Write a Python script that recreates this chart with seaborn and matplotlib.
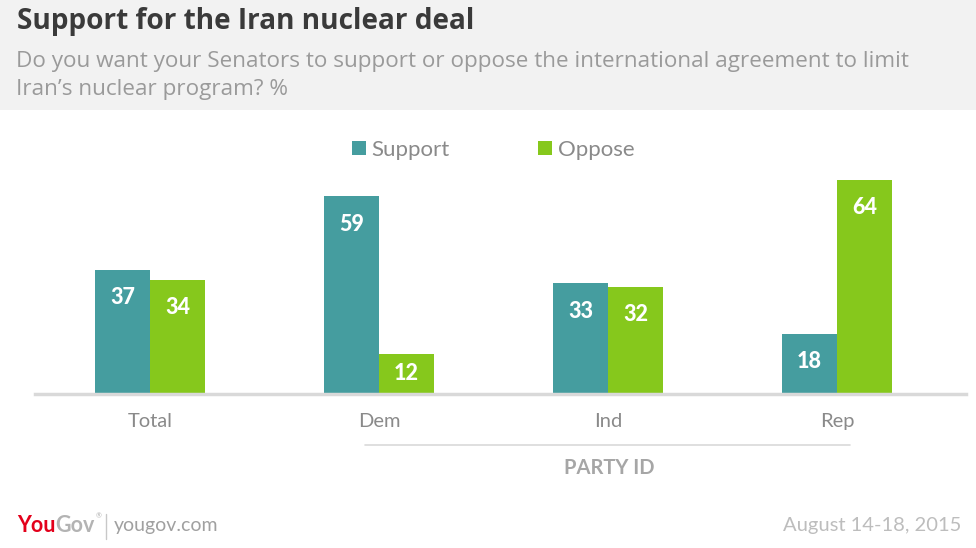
import matplotlib
matplotlib.use("Agg")
import matplotlib.pyplot as plt
from matplotlib.patches import Rectangle, Patch
from matplotlib.lines import Line2D
import seaborn as sns
import pandas as pd

categories = ["Total", "Dem", "Ind", "Rep"]
support = [37, 59, 33, 18]
oppose = [34, 12, 32, 64]
series_names = ["Support", "Oppose"]
colors = ["#459d9f", "#86c81c"]

df = pd.DataFrame({
    "group": categories * 2,
    "series": [series_names[0]] * 4 + [series_names[1]] * 4,
    "value": support + oppose,
})

sns.set_style("white")
plt.rcParams["font.family"] = ["Lato", "DejaVu Sans"]

W, H = 976, 548
fig = plt.figure(figsize=(W / 100, H / 100), dpi=100)
fig.patch.set_facecolor("white")
renderer = fig.canvas.get_renderer()

def fx(px):
    return px / W

def fy(py):
    return 1 - py / H

def fit_text(x, y, s, target_w, size, **kw):
    t = fig.text(x, y, s, fontsize=size, **kw)
    w = t.get_window_extent(renderer).width
    t.set_fontsize(size * target_w / w)
    return t

# header band
fig.patches.append(Rectangle((0, fy(110)), 1, 110 / H, transform=fig.transFigure,
                             facecolor="#f2f2f2", edgecolor="none", zorder=0))

ax_left, ax_right, ax_bottom, ax_top = 35, 966, 394, 130
ax = fig.add_axes([fx(ax_left), fy(ax_bottom), (ax_right - ax_left) / W, (ax_bottom - ax_top) / H])
ax.set_facecolor("none")

sns.barplot(data=df, x="group", y="value", hue="series", palette=colors,
            width=0.48, gap=0, ax=ax, legend=False, saturation=1, linewidth=0)

px_per_unit = 3.35
ax.set_ylim(0, (ax_bottom - ax_top) / px_per_unit)
ax.set_xlim(-115 / 229, 3 + 129 / 229)

for container in ax.containers:
    for bar in container:
        v = bar.get_height()
        cx = bar.get_x() + bar.get_width() / 2
        off = min(8.3, v / 2)
        ax.text(cx, v - off, f"{int(round(v))}", ha="center", va="center",
                color="white", fontsize=15.5, fontweight=900)

for s in ["top", "right", "left"]:
    ax.spines[s].set_visible(False)
ax.spines["bottom"].set_color("#d9d9d9")
ax.spines["bottom"].set_linewidth(2.5)
ax.set_yticks([])
ax.set_xlabel("")
ax.set_ylabel("")
ax.tick_params(axis="x", length=0, pad=14, labelsize=14.5, labelcolor="#8a8a8a")

# legend
handles = [Patch(facecolor=c, edgecolor="none") for c in colors]
leg = fig.legend(handles, series_names, ncol=2, frameon=False, loc="center left",
                 bbox_to_anchor=(fx(332), fy(150)), fontsize=16,
                 handlelength=0.62, handleheight=0.62, handletextpad=0.25,
                 columnspacing=4.0, labelcolor="#8a8a8a")

# party id
fig.add_artist(Line2D([fx(365), fx(850)], [fy(445), fy(445)], color="#d9d9d9", lw=1.2))
fig.text(fx(609), fy(468), "PARTY ID", ha="center", va="center", fontsize=14.5,
         fontweight="bold", color="#a6a6a6")

# title & subtitle
fit_text(fx(17), fy(22), "Support for the Iran nuclear deal", 456, 19,
         ha="left", va="center", fontweight="bold", color="#3a3a3a", family=["Open Sans", "DejaVu Sans"])
sub = fit_text(fx(16), fy(61), "Do you want your Senators to support or oppose the international agreement to limit",
               894, 15.5, ha="left", va="center", color="#9a9a9a", family=["Open Sans", "DejaVu Sans"])
fig.text(fx(16), fy(89), "Iran\u2019s nuclear program? %", ha="left", va="center",
         fontsize=sub.get_fontsize(), color="#9a9a9a", family=["Open Sans", "DejaVu Sans"])

# footer
t1 = fig.text(fx(17), fy(525), "You", ha="left", va="center", fontsize=15.5, fontweight="bold", color="#e3001b")
x1 = t1.get_window_extent(renderer).x1
t2 = fig.text(x1 / W, fy(525), "Gov", ha="left", va="center", fontsize=15.5, fontweight="bold", color="#b3b3b3")
x2 = t2.get_window_extent(renderer).x1
fig.text((x2 + 1) / W, fy(516), "\u00ae", ha="left", va="center", fontsize=5, color="#b3b3b3")
fig.add_artist(Line2D([fx(106), fx(106)], [fy(514), fy(539)], color="#c8c8c8", lw=1))
fig.text(fx(114), fy(525), "yougov.com", ha="left", va="center", fontsize=14,
         color="#a0a0a0")
fig.text(fx(961), fy(525), "August 14-18, 2015", ha="right", va="center", fontsize=14.5,
         color="#bdbdbd")

fig.savefig("out.png", dpi=100, facecolor="white")
